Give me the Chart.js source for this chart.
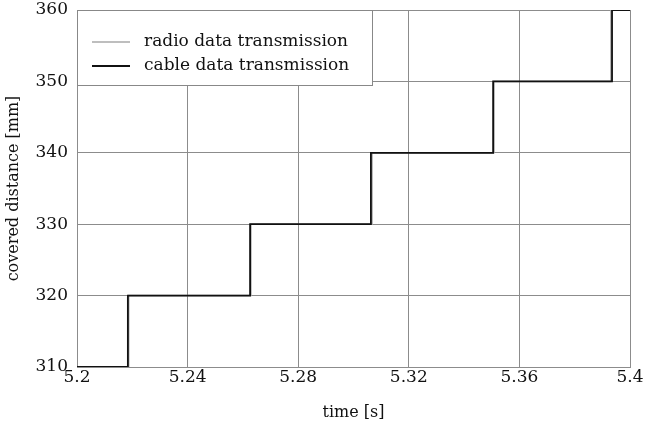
<!DOCTYPE html>
<html>
<head>
<meta charset="utf-8">
<script src="https://cdn.jsdelivr.net/npm/chart.js@4"></script>
<style>
  html, body { margin: 0; padding: 0; background: #fff; }
  #wrap { width: 645px; height: 430px; }
</style>
</head>
<body>
<div id="wrap"><canvas id="chart" width="645" height="430"></canvas></div>
<script>
// distance levels reached after each step [mm]
const levels = [310, 320, 330, 340, 350, 360];
// times where the distance jumps to the next level [s]
const cableJumps = [5.2184, 5.2626, 5.3063, 5.3505, 5.3935];
const radioJumps = [5.2187, 5.2629, 5.3067, 5.3508, 5.3931];
const tStart = 5.2;
const tEnd = 5.4;
const xTicks = [5.2, 5.24, 5.28, 5.32, 5.36, 5.4];
const yTicks = [310, 320, 330, 340, 350, 360];

const serif = '"DejaVu Serif", "Liberation Serif", serif';

function stepPoints(jumps) {
  const pts = [{ x: tStart, y: levels[0] }];
  jumps.forEach((t, i) => pts.push({ x: t, y: levels[i + 1] }));
  pts.push({ x: tEnd, y: levels[levels.length - 1] });
  return pts;
}

// legend drawn as a boxed key inside the top-left of the plot
const boxLegend = {
  id: 'boxLegend',
  afterDatasetsDraw(chart) {
    const ctx = chart.ctx;
    const a = chart.chartArea;
    const x0 = a.left, y0 = a.top;
    const w = 295, h = 75;
    ctx.save();
    ctx.fillStyle = '#fff';
    ctx.fillRect(x0, y0, w, h);
    ctx.strokeStyle = '#888';
    ctx.lineWidth = 1;
    ctx.strokeRect(x0 + 0.5, y0 + 0.5, w, h);
    ctx.font = '17px ' + serif;
    ctx.textBaseline = 'middle';
    chart.data.datasets.forEach((ds, i) => {
      const y = y0 + 32 + i * 24;
      ctx.strokeStyle = ds.borderColor;
      ctx.lineWidth = ds.borderWidth;
      ctx.beginPath();
      ctx.moveTo(x0 + 15, y);
      ctx.lineTo(x0 + 53, y);
      ctx.stroke();
      ctx.fillStyle = '#111';
      ctx.fillText(ds.label, x0 + 67, y);
    });
    ctx.restore();
  }
};

new Chart(document.getElementById('chart'), {
  type: 'line',
  data: {
    datasets: [
      {
        label: 'radio data transmission',
        data: stepPoints(radioJumps),
        stepped: 'before',
        borderColor: '#a8a8a8',
        borderWidth: 1.5,
        pointRadius: 0,
        fill: false,
        order: 2
      },
      {
        label: 'cable data transmission',
        data: stepPoints(cableJumps),
        stepped: 'before',
        borderColor: '#111',
        borderWidth: 1.8,
        pointRadius: 0,
        fill: false,
        order: 1
      }
    ]
  },
  options: {
    responsive: false,
    animation: false,
    layout: { padding: { top: 10, right: 15, left: 0, bottom: 0 } },
    plugins: {
      legend: { display: false },
      tooltip: { enabled: false }
    },
    scales: {
      x: {
        type: 'linear',
        min: tStart,
        max: tEnd,
        afterBuildTicks: axis => { axis.ticks = xTicks.map(v => ({ value: v })); },
        afterFit: axis => { axis.height = 63; axis.paddingRight = 0; },
        ticks: {
          color: '#111',
          font: { family: serif, size: 17 },
          padding: 0,
          maxRotation: 0,
          callback: v => String(parseFloat(v.toFixed(2)))
        },
        grid: { color: '#8c8c8c', lineWidth: 1, drawTicks: false },
        border: { color: '#8c8c8c' },
        title: {
          display: true,
          text: 'time [s]',
          color: '#111',
          font: { family: serif, size: 16 },
          padding: { top: 6, bottom: 8 }
        }
      },
      y: {
        min: 310,
        max: 360,
        afterBuildTicks: axis => { axis.ticks = yTicks.map(v => ({ value: v })); },
        afterFit: axis => { axis.width = 77; axis.paddingTop = 0; },
        ticks: {
          color: '#111',
          font: { family: serif, size: 17 },
          padding: 9
        },
        grid: { color: '#8c8c8c', lineWidth: 1, drawTicks: false },
        border: { color: '#8c8c8c' },
        title: {
          display: true,
          text: 'covered distance [mm]',
          color: '#111',
          font: { family: serif, size: 16 },
          padding: { top: 4, bottom: 4 }
        }
      }
    }
  },
  plugins: [boxLegend]
});
</script>
</body>
</html>
